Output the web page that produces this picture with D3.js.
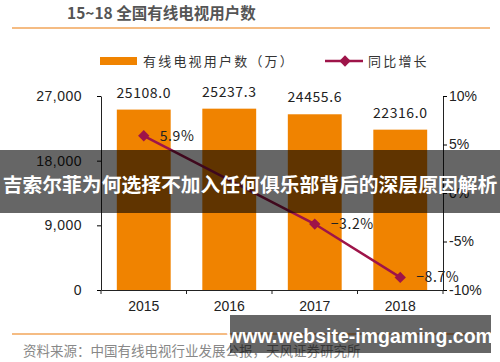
<!DOCTYPE html>
<html>
<head>
<meta charset="utf-8">
<script src="https://cdn.jsdelivr.net/npm/d3@7"></script>
<style>
  body { margin: 0; background: #fff; }
  svg { display: block; }
  text { font-family: "Liberation Sans", Arial, sans-serif; }
  .cjk { font-family: "Noto Sans CJK SC", sans-serif; }
</style>
</head>
<body>
<script>
// data
var years = ["2015", "2016", "2017", "2018"];
var users = [25108.0, 25237.3, 24455.6, 22316.0];   // 万户
var growth = [5.9, null, -3.2, -8.7];               // 同比增长 %, 2016 point not shown
var leftTicks = [0, 9000, 18000, 27000];
var rightTicks = [-10, -5, 0, 5, 10];

var W = 500, H = 362;
var orange = "#F08300", maroon = "#9E1449";

var svg = d3.select("body").append("svg")
    .attr("width", W)
    .attr("height", H);

// title + rules
svg.append("text")
    .attr("class", "cjk")
    .attr("x", 67).attr("y", 19)
    .attr("font-size", 15.5).attr("font-weight", "bold")
    .attr("fill", "#555")
    .text("15~18  全国有线电视用户数");

svg.append("line")
    .attr("x1", 12).attr("x2", 490).attr("y1", 28).attr("y2", 28)
    .attr("stroke", "#F2A65A").attr("stroke-width", 1.5);
svg.append("line")
    .attr("x1", 12).attr("x2", 490).attr("y1", 334).attr("y2", 334)
    .attr("stroke", "#F2A65A").attr("stroke-width", 1.5);

// scales
var x = d3.scaleBand().domain(years).range([101, 443])
    .paddingInner(0.37).paddingOuter(0.185);
var y = d3.scaleLinear().domain([0, 27000]).range([290, 96]);
var y2 = d3.scaleLinear().domain([-10, 10]).range([290, 96]);

// bars
svg.selectAll("rect.bar")
    .data(users)
    .enter().append("rect")
    .attr("class", "bar")
    .attr("x", function(d, i) { return x(years[i]); })
    .attr("width", x.bandwidth())
    .attr("y", function(d) { return y(d); })
    .attr("height", function(d) { return y(0) - y(d); })
    .attr("fill", orange);

// bar value labels
svg.selectAll("text.val")
    .data(users)
    .enter().append("text")
    .attr("class", "cjk val")
    .attr("x", function(d, i) { return x(years[i]) + x.bandwidth() / 2; })
    .attr("y", function(d) { return y(d) - 12; })
    .attr("text-anchor", "middle")
    .attr("font-size", 14)
    .attr("letter-spacing", 0.6)
    .attr("fill", "#222")
    .text(function(d) { return d.toFixed(1); });

// left axis
var gl = svg.append("g")
    .attr("transform", "translate(101,0)")
    .call(d3.axisLeft(y).tickValues(leftTicks).tickFormat(d3.format(",")).tickSize(4).tickSizeOuter(0));
gl.selectAll("text").attr("font-size", 14).attr("fill", "#222").attr("x", -19).attr("letter-spacing", 0.5);

// right axis
var gr = svg.append("g")
    .attr("transform", "translate(443,0)")
    .call(d3.axisRight(y2).tickValues(rightTicks).tickFormat(function(d) { return d + "%"; }).tickSize(4).tickSizeOuter(0));
gr.selectAll("text").attr("font-size", 14).attr("fill", "#222").attr("x", 6);

// bottom axis, ticks on band edges
var gb = svg.append("g")
    .attr("transform", "translate(0,290)")
    .call(d3.axisBottom(x).tickSize(0).tickSizeOuter(0));
gb.selectAll("text").attr("font-size", 14).attr("fill", "#222").attr("dy", "1.3em");
var edges = years.map(function(d) { return x(d) - x.step() * x.paddingInner() / 2; });
edges.push(443);
gb.selectAll("line.edge")
    .data(edges)
    .enter().append("line")
    .attr("class", "edge")
    .attr("x1", function(d) { return d; }).attr("x2", function(d) { return d; })
    .attr("y1", 0).attr("y2", 4)
    .attr("stroke", "#222");

svg.selectAll(".domain").attr("stroke", "#222");

// growth line
var pts = growth.map(function(g, i) { return { year: years[i], g: g }; })
    .filter(function(p) { return p.g !== null; });
var line = d3.line()
    .x(function(p) { return x(p.year) + x.bandwidth() / 2; })
    .y(function(p) { return y2(p.g); });
svg.append("path")
    .datum(pts)
    .attr("d", line)
    .attr("fill", "none")
    .attr("stroke", maroon)
    .attr("stroke-width", 2.5);

var diamond = d3.symbol().type(d3.symbolSquare).size(64);
svg.selectAll("path.pt")
    .data(pts)
    .enter().append("path")
    .attr("class", "pt")
    .attr("d", diamond)
    .attr("fill", maroon)
    .attr("transform", function(p) {
        return "translate(" + (x(p.year) + x.bandwidth() / 2) + "," + y2(p.g) + ") rotate(45)";
    });

svg.selectAll("text.pct")
    .data(pts)
    .enter().append("text")
    .attr("class", "cjk pct")
    .attr("x", function(p) { return x(p.year) + x.bandwidth() / 2 + 16; })
    .attr("y", function(p) { return y2(p.g) + 5; })
    .attr("font-size", 14)
    .attr("letter-spacing", 0.6)
    .attr("fill", "#222")
    .text(function(p) { return (p.g < 0 ? "−" : "") + Math.abs(p.g).toFixed(1) + "%"; });

// legend
svg.append("rect")
    .attr("x", 100).attr("y", 57).attr("width", 37).attr("height", 8)
    .attr("fill", orange);
svg.append("text")
    .attr("class", "cjk")
    .attr("x", 143).attr("y", 66)
    .attr("font-size", 13).attr("letter-spacing", 2.2).attr("fill", "#333")
    .text("有线电视用户数（万）");
svg.append("line")
    .attr("x1", 325).attr("x2", 363).attr("y1", 61).attr("y2", 61)
    .attr("stroke", maroon).attr("stroke-width", 2.5);
svg.append("path")
    .attr("d", diamond)
    .attr("fill", maroon)
    .attr("transform", "translate(345,61) rotate(45)");
svg.append("text")
    .attr("class", "cjk")
    .attr("x", 368).attr("y", 66)
    .attr("font-size", 13).attr("letter-spacing", 2.2).attr("fill", "#333")
    .text("同比增长");

// source
svg.append("text")
    .attr("class", "cjk")
    .attr("x", 23).attr("y", 356)
    .attr("font-size", 13.5).attr("fill", "#888")
    .text("资料来源：中国有线电视行业发展公报，天风证券研究所");

// overlay banners
svg.append("rect")
    .attr("x", 0).attr("y", 150).attr("width", 500).attr("height", 63)
    .attr("fill", "rgba(0,0,0,0.6)");
svg.append("text")
    .attr("class", "cjk")
    .attr("x", 250).attr("y", 192)
    .attr("text-anchor", "middle")
    .attr("font-size", 19.8).attr("font-weight", "bold")
    .attr("fill", "#fff")
    .text("吉索尔菲为何选择不加入任何俱乐部背后的深层原因解析");

svg.append("rect")
    .attr("x", 230).attr("y", 315).attr("width", 261).attr("height", 38)
    .attr("fill", "rgba(0,0,0,0.6)");
svg.append("text")
    .attr("x", 360).attr("y", 343)
    .attr("text-anchor", "middle")
    .attr("font-family", "'Open Sans', sans-serif")
    .attr("font-size", 19.5).attr("font-weight", "bold")
    .attr("fill", "#fff")
    .text("www.website-imgaming.com");
</script>
</body>
</html>
